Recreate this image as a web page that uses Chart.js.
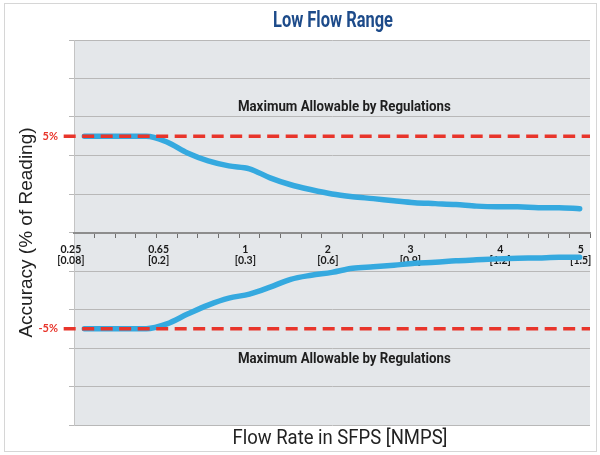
<!DOCTYPE html>
<html>
<head>
<meta charset="utf-8">
<script src="https://cdn.jsdelivr.net/npm/chart.js@4.4.1/dist/chart.umd.min.js"></script>
<style>
  html, body { margin: 0; padding: 0; background: #fff; }
</style>
</head>
<body>
<canvas id="flowChart" width="600" height="455"></canvas>
<script>
// accuracy curve, one value per slot on the flow axis (25 slots, points sit mid-slot)
const upperAccuracy = [5, 5, 5, 5, 4.7, 4.13, 3.72, 3.46, 3.31, 2.84, 2.48, 2.22, 2.0, 1.86, 1.76, 1.65, 1.55, 1.5, 1.45, 1.37, 1.34, 1.34, 1.29, 1.29, 1.24];
const lowerAccuracy = [-5, -5, -5, -5, -4.75, -4.24, -3.77, -3.41, -3.2, -2.84, -2.43, -2.22, -2.07, -1.86, -1.78, -1.7, -1.6, -1.55, -1.47, -1.42, -1.37, -1.34, -1.32, -1.29, -1.29];

// flow labels (SFPS over NMPS) and the slot they sit at
const flowTickPos = [-0.15, 4.1, 8.3, 12.3, 16.3, 20.65, 24.55];
const flowSfps = ['0.25', '0.65', '1', '2', '3', '4', '5'];
const flowNmps = ['[0.08]', '[0.2]', '[0.3]', '[0.6]', '[0.9]', '[1.2]', '[1.5]'];

const yGridTicks = [-10, -8, -6, -4, -2, 0, 2, 4, 6, 8, 10];
const limitLines = [5, -5];          // regulation limits, %
const limitSpan = [-0.5, 25];
const noteText = 'Maximum Allowable by Regulations';
const noteLevels = [6.5, -6.6];
const noteSlot = 13.1;

// draw text squeezed to a given width (the original uses a condensed face)
function fitText(ctx, text, cx, cy, font, width) {
    ctx.font = font;
    const sx = width / ctx.measureText(text).width;
    ctx.save();
    ctx.translate(cx, cy);
    ctx.scale(sx, 1);
    ctx.fillText(text, 0, 0);
    ctx.restore();
}

const frame = {
    id: 'frame',
    beforeDraw(chart) {
        const { ctx, chartArea: a } = chart;
        ctx.save();
        ctx.fillStyle = '#e4e7ea';
        ctx.fillRect(a.left, a.top, a.right - a.left, a.bottom - a.top);
        ctx.strokeStyle = '#d6d6d6';
        ctx.lineWidth = 1;
        ctx.strokeRect(4.5, 3.5, 592, 448);
        ctx.restore();
    },
    afterDraw(chart) {
        const { ctx, scales: { x, y } } = chart;
        ctx.save();
        ctx.textAlign = 'center';
        ctx.textBaseline = 'middle';
        ctx.fillStyle = '#1d4b8a';
        fitText(ctx, 'Low Flow Range', 333, 21, 'bold 22px Roboto', 120);
        ctx.fillStyle = '#222';
        fitText(ctx, 'Flow Rate in SFPS [NMPS]', 340, 439, '20px Roboto', 215);
        ctx.fillStyle = '#1e1e1e';
        noteLevels.forEach(v => fitText(ctx, noteText, x.getPixelForValue(noteSlot), y.getPixelForValue(v), 'bold 14px Roboto', 213));
        ctx.restore();
    }
};

const curve = (vals) => vals.map((v, i) => ({ x: i + 0.5, y: v }));

new Chart(document.getElementById('flowChart'), {
    type: 'line',
    data: {
        datasets: [
            ...limitLines.map(v => ({
                data: limitSpan.map(x => ({ x, y: v })),
                borderColor: '#e8352b',
                borderWidth: 3.5,
                borderDash: [12, 6.5],
                pointRadius: 0,
                clip: false,
                order: 0
            })),
            ...[upperAccuracy, lowerAccuracy].map(vals => ({
                data: curve(vals),
                borderColor: '#35a9df',
                borderWidth: 5.5,
                pointRadius: 0,
                cubicInterpolationMode: 'monotone',
                borderCapStyle: 'round',
                borderJoinStyle: 'round',
                order: 1
            }))
        ]
    },
    options: {
        responsive: false,
        animation: false,
        devicePixelRatio: 1,
        layout: { padding: { top: 40, right: 10, bottom: 30, left: 0 } },
        plugins: {
            legend: { display: false },
            tooltip: { enabled: false }
        },
        scales: {
            y: {
                min: -10,
                max: 10,
                afterBuildTicks(s) { s.ticks = yGridTicks.concat(limitLines).map(v => ({ value: v })); },
                afterFit(s) { s.width = 74; s.paddingTop = 0; s.paddingBottom = 0; },
                grid: {
                    color: c => (c.tick && limitLines.includes(c.tick.value)) ? 'rgba(0,0,0,0)' : '#b8b8b8',
                    tickLength: 5
                },
                border: { color: '#c4c4c4' },
                ticks: {
                    padding: 11,
                    color: '#e8352b',
                    font: { family: 'Lato', size: 11, weight: 'bold' },
                    callback: v => limitLines.includes(v) ? v + '%' : ''
                },
                title: {
                    display: true,
                    text: 'Accuracy (% of Reading)',
                    color: '#222',
                    font: { family: "'Liberation Sans', Arial", size: 19 },
                    padding: { top: 15, bottom: 0 }
                }
            },
            x: {
                type: 'linear',
                position: { y: 0 },
                min: 0,
                max: 25,
                ticks: { display: false, stepSize: 1 },
                grid: { drawOnChartArea: false, drawTicks: true, tickLength: 4, color: '#6f6f6f' },
                border: { color: '#8d8d8d', width: 2 },
                afterFit(s) { s.paddingLeft = 0; s.paddingRight = 0; }
            },
            x2: {
                type: 'linear',
                position: { y: 0 },
                min: 0,
                max: 25,
                afterBuildTicks(s) { s.ticks = flowTickPos.map(v => ({ value: v })); },
                afterFit(s) { s.paddingLeft = 0; s.paddingRight = 0; },
                ticks: {
                    autoSkip: false,
                    maxRotation: 0,
                    padding: 4,
                    color: '#1a1a1a',
                    font: { family: 'Lato', size: 10.5, weight: 'bold', lineHeight: 1.05 },
                    callback: (v, i) => [flowSfps[i], flowNmps[i]]
                },
                grid: { display: false },
                border: { display: false }
            }
        }
    },
    plugins: [frame]
});
</script>
</body>
</html>
